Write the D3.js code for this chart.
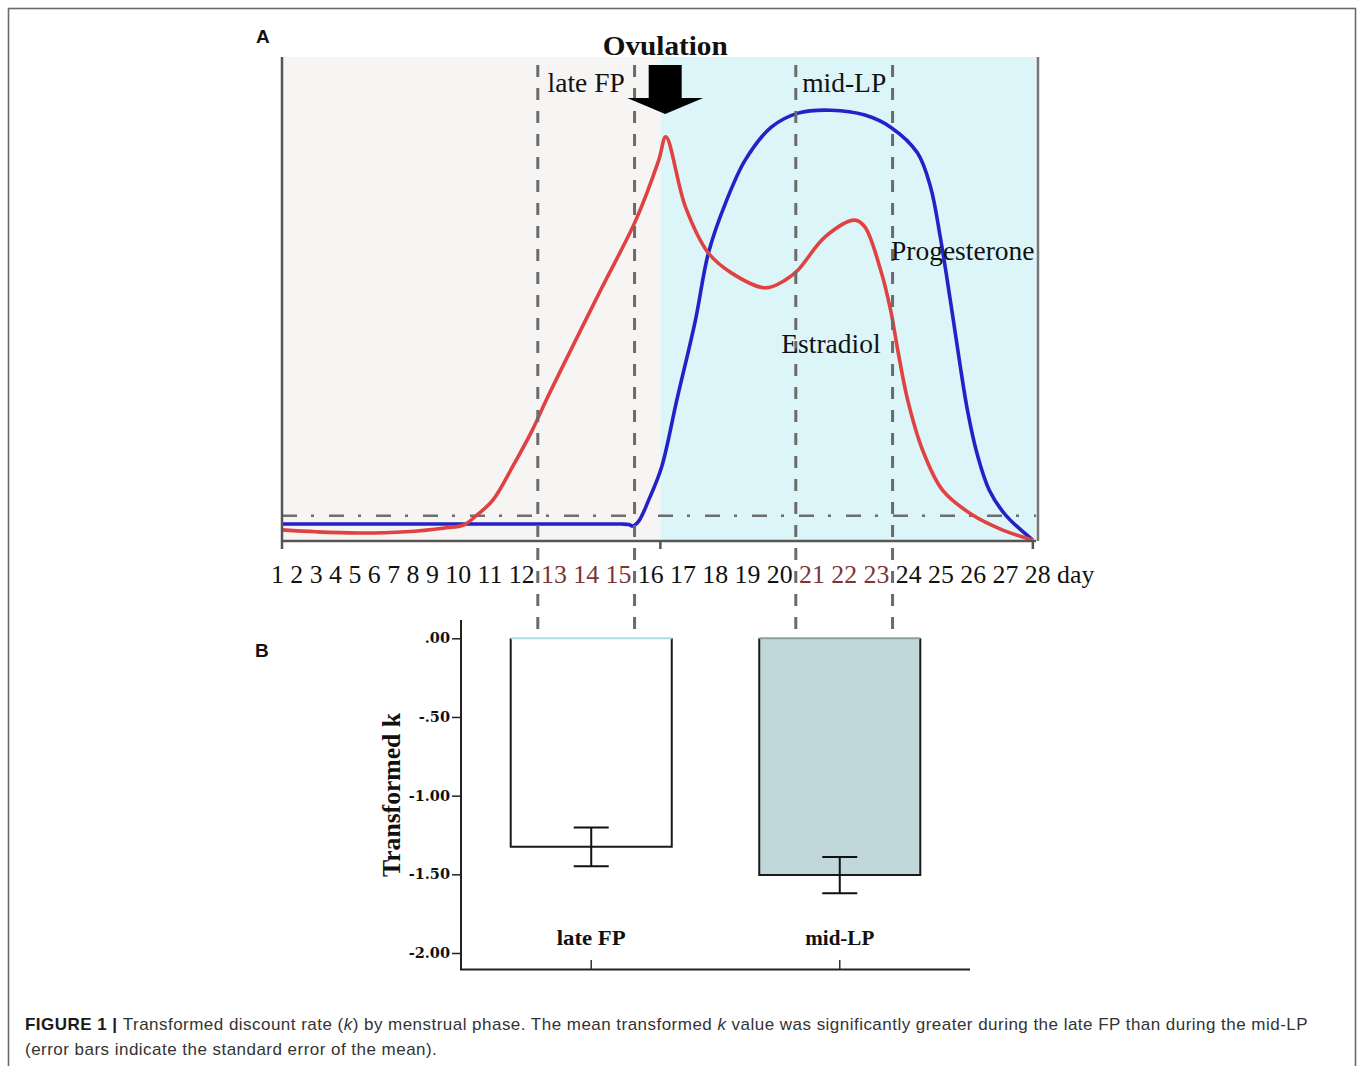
<!DOCTYPE html>
<html><head><meta charset="utf-8">
<script src="https://cdn.jsdelivr.net/npm/d3@7"></script>
<style>body{margin:0;background:#fff}svg{display:block}</style>
</head><body><svg id="c" width="1358" height="1066"></svg>
<script>
// ---------------- DATA ----------------
const days = d3.range(1, 29);
const dayLabels = days.map(String);
const phaseNames = ["late FP", "mid-LP"];
const phaseStart = [12.5, 20.5];
const phaseEnd = [15.5, 23.5];
const ovulationDay = 16.45;
const lutealStartDay = 16.3;
const baselineLevel = 5.2;

const progDays = [1.25, 6.0, 11.0, 14.5, 15.1, 15.32, 15.45, 15.63, 15.94, 16.34, 16.81, 17.39, 17.79, 18.32, 18.93, 19.74, 20.57, 21.59, 22.64, 23.44, 24.27, 24.68, 24.98, 25.29, 25.57, 25.82, 26.13, 26.50, 27.0, 27.85];
const progLevels = [3.5, 3.5, 3.5, 3.5, 3.5, 3.4, 3.1, 4.1, 8.5, 15.3, 29.1, 45.7, 59.5, 69.8, 78.7, 85.5, 88.4, 89.0, 88.0, 85.5, 80.2, 73.1, 62.8, 49.8, 37.4, 27.1, 17.8, 10.5, 5.4, 0.2];

const estrDays = [1.25, 3.0, 5.14, 7.64, 9.49, 10.17, 10.60, 11.10, 11.71, 12.33, 12.76, 14.40, 15.54, 16.25, 16.47, 17.08, 17.79, 18.50, 19.55, 20.17, 20.57, 21.40, 22.33, 22.64, 23.13, 23.44, 23.66, 23.97, 24.43, 25.05, 25.97, 26.90, 27.85];
const estrLevels = [2.3, 1.9, 1.65, 1.9, 2.7, 3.3, 5.4, 8.5, 15.3, 22.9, 29.1, 51.2, 66.3, 78.7, 83.5, 69.0, 59.5, 55.4, 52.3, 53.9, 56.0, 62.8, 66.3, 64.9, 56.0, 47.7, 39.5, 29.1, 18.8, 10.5, 5.4, 2.3, 0.2];

const barCategories = ["late FP", "mid-LP"];
const barMeans = [-1.325, -1.505];
const barSE = [0.123, 0.115];
const yTicks = [0, -0.5, -1, -1.5, -2];
const yTickLabels = [".00", "-.50", "-1.00", "-1.50", "-2.00"];

// ---------------- DRAW ----------------
const svg = d3.select("#c");
const serif = "'Liberation Serif','Times New Roman',serif";
const sans = "'Liberation Sans',Arial,sans-serif";

svg.append("rect").attr("x", 8.5).attr("y", 8.5).attr("width", 1347).attr("height", 1080)
  .attr("fill", "none").attr("stroke", "#6a6a6a").attr("stroke-width", 1.6);

// ---- Panel A ----
const gA = svg.append("g");
const yA = d3.scaleLinear().domain([0, 100]).range([541, 57]);

const labFont = 25.8;
const labG = gA.append("g").attr("font-family", serif).attr("font-size", labFont);
const probe = labG.append("text").text("00");
const w2 = probe.node().getComputedTextLength();
probe.text("0 0");
const spaceW = probe.node().getComputedTextLength() - w2;
probe.remove();
let cx = 271;
const centers = [];
const inPhase = d => phaseStart.some((s, i) => d > s && d < phaseEnd[i]);
dayLabels.forEach((lab, i) => {
  const t = labG.append("text").attr("x", cx).attr("y", 583).text(lab)
    .attr("fill", inPhase(days[i]) ? "#7d3434" : "#111");
  const w = t.node().getComputedTextLength();
  centers.push(cx + w / 2);
  cx += w + spaceW;
});
labG.append("text").attr("x", cx).attr("y", 583).attr("fill", "#111").text("day");

const xA = d3.scaleLinear().domain(days).range(centers);
const plotL = 282, plotR = 1038;

gA.insert("rect", ":first-child").attr("x", plotL).attr("y", 57).attr("width", xA(lutealStartDay) - plotL).attr("height", 484).attr("fill", "#f7f4f4");
gA.insert("rect", ":first-child").attr("x", xA(lutealStartDay)).attr("y", 57).attr("width", plotR - xA(lutealStartDay)).attr("height", 484).attr("fill", "#dcf5f8");

gA.append("line").attr("x1", plotL).attr("x2", plotR - 2).attr("y1", yA(baselineLevel)).attr("y2", yA(baselineLevel))
  .attr("stroke", "#6e6e6e").attr("stroke-width", 2.5).attr("stroke-dasharray", "15,14,3,15");

const line = d3.line().curve(d3.curveCatmullRom.alpha(0.5)).x(d => xA(d[0])).y(d => yA(d[1]));
gA.append("path").datum(progDays.map((d, i) => [d, progLevels[i]])).attr("d", line)
  .attr("fill", "none").attr("stroke", "#2222c8").attr("stroke-width", 3.6);
gA.append("path").datum(estrDays.map((d, i) => [d, estrLevels[i]])).attr("d", line)
  .attr("fill", "none").attr("stroke", "#e04242").attr("stroke-width", 3.6);

gA.append("line").attr("x1", plotL).attr("x2", plotL).attr("y1", 57).attr("y2", 549).attr("stroke", "#555").attr("stroke-width", 2.5);
gA.append("line").attr("x1", plotL).attr("x2", plotR - 2).attr("y1", 541).attr("y2", 541).attr("stroke", "#555").attr("stroke-width", 2.5);
gA.append("line").attr("x1", plotR).attr("x2", plotR).attr("y1", 57).attr("y2", 541).attr("stroke", "#777").attr("stroke-width", 2.5);
[xA(lutealStartDay), xA(progDays[progDays.length - 1])].forEach(x => {
  gA.append("line").attr("x1", x).attr("x2", x).attr("y1", 541).attr("y2", 549).attr("stroke", "#555").attr("stroke-width", 2.5);
});

phaseStart.concat(phaseEnd).forEach(d => {
  gA.append("line").attr("x1", xA(d)).attr("x2", xA(d)).attr("y1", 65).attr("y2", 633)
    .attr("stroke", "#6b6b6b").attr("stroke-width", 3).attr("stroke-dasharray", "12,11");
});

phaseNames.forEach((n, i) => {
  gA.append("text").attr("x", (xA(phaseStart[i]) + xA(phaseEnd[i])) / 2).attr("y", 92)
    .attr("text-anchor", "middle").attr("font-family", serif).attr("font-size", 27.5).attr("fill", "#111").text(n);
});

const ax = xA(ovulationDay);
gA.append("path").attr("d", `M${ax - 16.5},65 L${ax + 16.5},65 L${ax + 16.5},98 L${ax + 38},98 L${ax},114 L${ax - 38},98 L${ax - 16.5},98 Z`).attr("fill", "#000");
gA.append("text").attr("x", ax).attr("y", 55).attr("text-anchor", "middle").attr("font-family", serif)
  .attr("font-weight", "bold").attr("font-size", 28).attr("fill", "#111")
  .attr("textLength", 125).attr("lengthAdjust", "spacingAndGlyphs").text("Ovulation");

gA.append("text").attr("x", xA(23.45)).attr("y", 260).attr("font-family", serif).attr("font-size", 27.5).attr("fill", "#111").text("Progesterone");
gA.append("text").attr("x", xA(20.05)).attr("y", 353).attr("font-family", serif).attr("font-size", 27.5).attr("fill", "#111").text("Estradiol");

svg.append("text").attr("x", 256).attr("y", 43).attr("font-family", sans).attr("font-weight", "bold").attr("font-size", 19).attr("fill", "#111").text("A");
svg.append("text").attr("x", 255).attr("y", 657).attr("font-family", sans).attr("font-weight", "bold").attr("font-size", 19).attr("fill", "#111").text("B");

// ---- Panel B ----
const gB = svg.append("g");
const yB = d3.scaleLinear().domain([-2, 0]).range([953, 638.3]);
const xB = d3.scaleBand().domain(barCategories).range([461, 970]).paddingInner(0.352).paddingOuter(0.2);
const bw = xB.bandwidth();

barCategories.forEach((c, i) => {
  const x0 = xB(c), x1 = x0 + bw, yt = yB(0), yb = yB(barMeans[i]);
  gB.append("rect").attr("x", x0).attr("y", yt).attr("width", bw).attr("height", yb - yt).attr("fill", i === 0 ? "#ffffff" : "#c1d8da");
  gB.append("path").attr("d", `M${x0},${yt} L${x0},${yb} L${x1},${yb} L${x1},${yt}`).attr("fill", "none").attr("stroke", "#1a1a1a").attr("stroke-width", 2);
  gB.append("line").attr("x1", x0).attr("x2", x1).attr("y1", yt).attr("y2", yt).attr("stroke", i === 0 ? "#a9dde2" : "#8aa0a3").attr("stroke-width", 2);
  const mx = x0 + bw / 2;
  const e1 = yB(barMeans[i] + barSE[i]), e2 = yB(barMeans[i] - barSE[i]);
  gB.append("line").attr("x1", mx).attr("x2", mx).attr("y1", e1).attr("y2", e2).attr("stroke", "#111").attr("stroke-width", 2);
  [e1, e2].forEach(y => gB.append("line").attr("x1", mx - 17.5).attr("x2", mx + 17.5).attr("y1", y).attr("y2", y).attr("stroke", "#111").attr("stroke-width", 2));
  gB.append("text").attr("x", mx).attr("y", 945).attr("text-anchor", "middle").attr("font-family", serif)
    .attr("font-weight", "bold").attr("font-size", 21).attr("fill", "#111").attr("textLength", 69).attr("lengthAdjust", "spacingAndGlyphs").text(c);
  gB.append("line").attr("x1", mx).attr("x2", mx).attr("y1", 960).attr("y2", 969).attr("stroke", "#333").attr("stroke-width", 1.5);
});

const yAxis = d3.axisLeft(yB).tickValues(yTicks).tickFormat((d, i) => yTickLabels[i]).tickSize(9).tickPadding(2);
const yg = gB.append("g").attr("transform", "translate(461,0)").call(yAxis);
yg.select(".domain").remove();
yg.selectAll(".tick line").attr("stroke", "#222").attr("stroke-width", 1.5);
yg.selectAll(".tick text").attr("font-family", "'DejaVu Serif',serif").attr("font-weight", "bold").attr("font-size", 14.5).attr("fill", "#111");
gB.append("line").attr("x1", 461).attr("x2", 461).attr("y1", 620).attr("y2", 970).attr("stroke", "#222").attr("stroke-width", 2);
gB.append("line").attr("x1", 460).attr("x2", 970).attr("y1", 969.5).attr("y2", 969.5).attr("stroke", "#222").attr("stroke-width", 2);

gB.append("text").attr("transform", "translate(400,795) rotate(-90)").attr("text-anchor", "middle")
  .attr("font-family", serif).attr("font-weight", "bold").attr("font-size", 25).attr("fill", "#111")
  .attr("textLength", 164).attr("lengthAdjust", "spacingAndGlyphs").text("Transformed k");

// ---- Caption ----
const cap1 = svg.append("text").attr("x", 25).attr("y", 1030).attr("font-family", sans).attr("font-size", 17).attr("fill", "#333");
cap1.append("tspan").attr("font-weight", "bold").attr("fill", "#1a1a1a").text("FIGURE 1 | ");
cap1.append("tspan").text("Transformed discount rate (");
cap1.append("tspan").attr("font-style", "italic").text("k");
cap1.append("tspan").text(") by menstrual phase. The mean transformed ");
cap1.append("tspan").attr("font-style", "italic").text("k");
cap1.append("tspan").text(" value was significantly greater during the late FP than during the mid-LP");
const cap2 = svg.append("text").attr("x", 25).attr("y", 1055).attr("font-family", sans).attr("font-size", 17).attr("fill", "#333")
  .text("(error bars indicate the standard error of the mean).");
const nat = cap1.node().getComputedTextLength();
const nChars = cap1.text().length;
const ls = (1283 - nat) / nChars;
cap1.attr("letter-spacing", ls);
cap2.attr("letter-spacing", ls);
</script></body></html>
